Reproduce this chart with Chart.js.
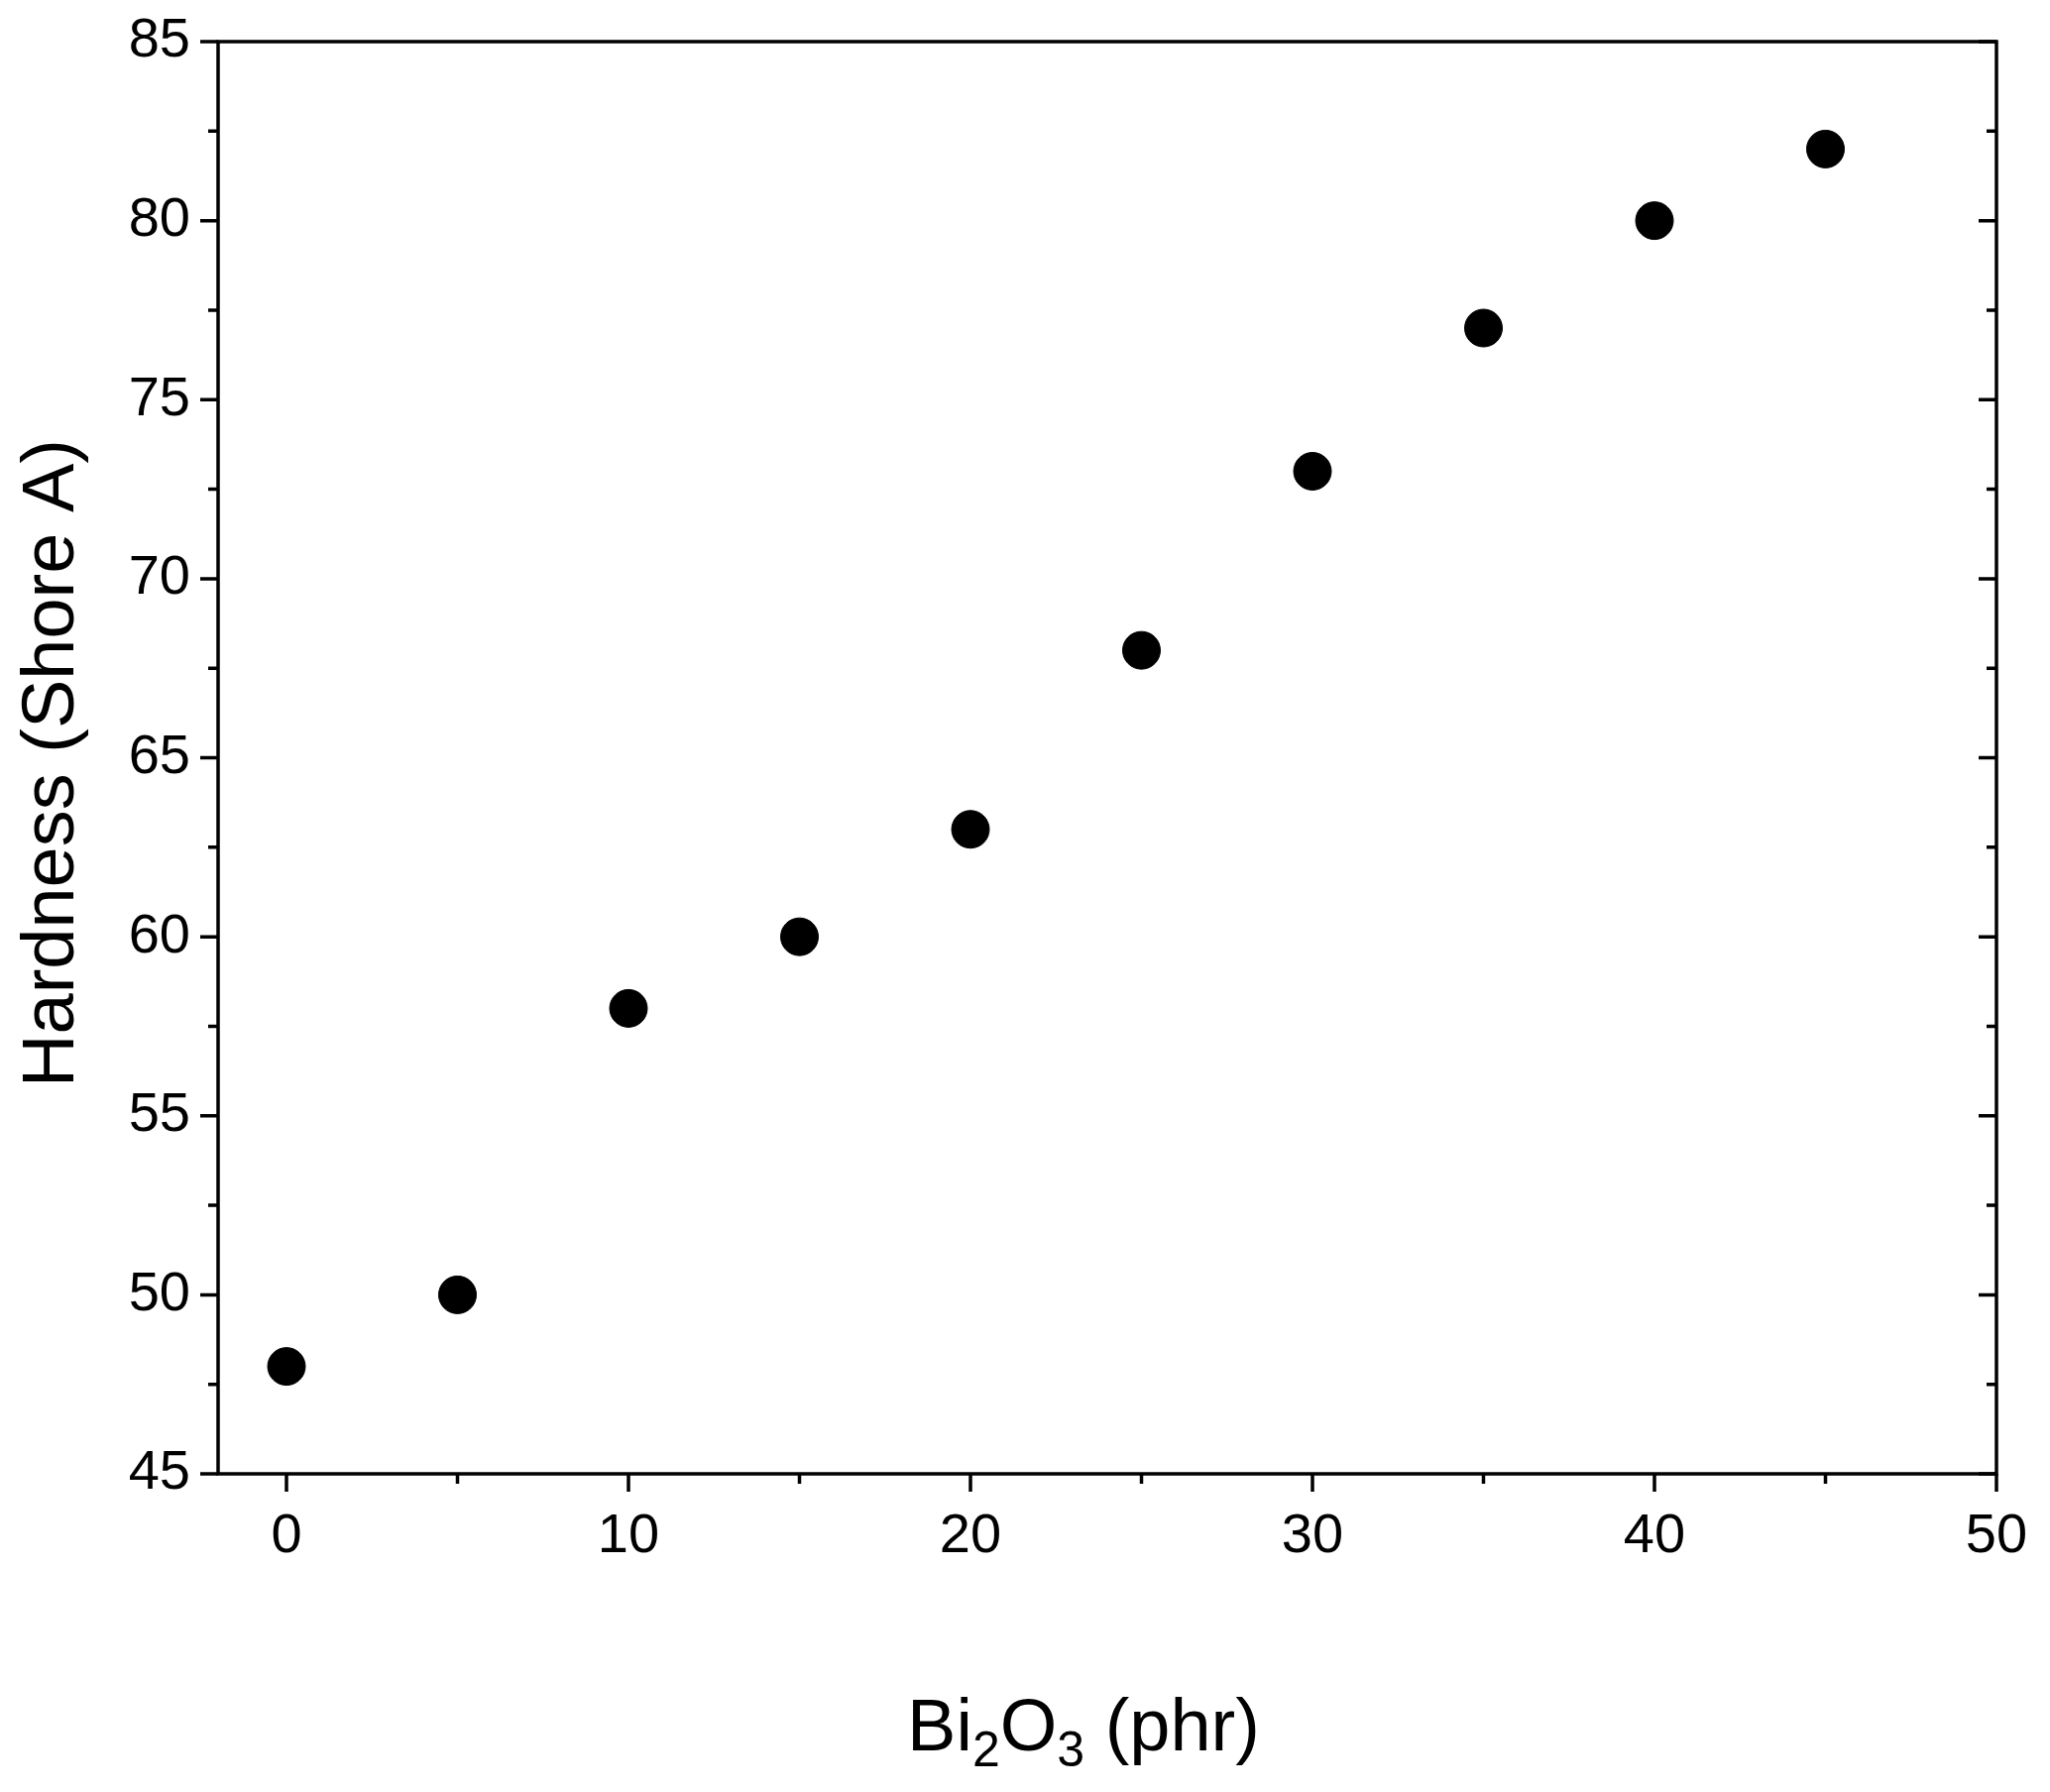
<!DOCTYPE html>
<html>
<head>
<meta charset="utf-8">
<script src="https://cdn.jsdelivr.net/npm/chart.js@4"></script>
<style>
  html, body { margin: 0; padding: 0; background: #fff; }
  #wrap { width: 2068px; height: 1808px; }
</style>
</head>
<body>
<div id="wrap"><canvas id="c" width="2068" height="1808"></canvas></div>
<script>
const bi2o3 = [0, 5, 10, 15, 20, 25, 30, 35, 40, 45];
const hardness = [48, 50, 58, 60, 63, 68, 73, 77, 80, 82];
const xTicks = [0, 10, 20, 30, 40, 50];
const yTicks = [45, 50, 55, 60, 65, 70, 75, 80, 85];

const FONT = '"Liberation Sans", Arial, sans-serif';

// frame, ticks, labels and titles drawn by hand, like Origin does
const axesPlugin = {
  id: 'axes',
  afterDraw(chart) {
    const ctx = chart.ctx;
    const a = chart.chartArea;
    const xs = chart.scales.x, ys = chart.scales.y;
    ctx.save();
    ctx.strokeStyle = '#000';
    ctx.fillStyle = '#000';
    ctx.lineWidth = 3.5;
    ctx.strokeRect(a.left, a.top, a.right - a.left, a.bottom - a.top);

    const major = 18, minor = 10;
    ctx.beginPath();
    for (let v = 0; v <= 50; v += 5) {
      const px = xs.getPixelForValue(v);
      const len = v % 10 === 0 ? major : minor;
      ctx.moveTo(px, a.bottom); ctx.lineTo(px, a.bottom + len);
    }
    for (let v = 45; v <= 85; v += 2.5) {
      const py = ys.getPixelForValue(v);
      const len = v % 5 === 0 ? major : minor;
      ctx.moveTo(a.left, py); ctx.lineTo(a.left - len, py);
      ctx.moveTo(a.right, py); ctx.lineTo(a.right - len, py);
    }
    ctx.stroke();

    ctx.font = '56px ' + FONT;
    ctx.textAlign = 'center';
    ctx.textBaseline = 'top';
    xTicks.forEach(v => ctx.fillText(String(v), xs.getPixelForValue(v), a.bottom + 36));
    ctx.textAlign = 'right';
    ctx.textBaseline = 'middle';
    yTicks.forEach(v => ctx.fillText(String(v), a.left - 28, ys.getPixelForValue(v)));

    // y title
    ctx.save();
    ctx.translate(54, 770);
    ctx.rotate(-Math.PI / 2);
    ctx.textAlign = 'center';
    ctx.textBaseline = 'middle';
    ctx.font = '74px ' + FONT;
    ctx.fillText('Hardness (Shore A)', 0, 0);
    ctx.restore();

    // x title with subscripts
    const parts = [['Bi', 0], ['2', 1], ['O', 0], ['3', 1], [' (phr)', 0]];
    const big = '74px ' + FONT, small = '50px ' + FONT;
    let w = 0;
    parts.forEach(p => { ctx.font = p[1] ? small : big; w += ctx.measureText(p[0]).width; });
    let x = 1093 - w / 2;
    const base = 1766;
    ctx.textAlign = 'left';
    ctx.textBaseline = 'alphabetic';
    parts.forEach(p => {
      ctx.font = p[1] ? small : big;
      ctx.fillText(p[0], x, base + (p[1] ? 16 : 0));
      x += ctx.measureText(p[0]).width;
    });
    ctx.restore();
  }
};

new Chart(document.getElementById('c'), {
  type: 'scatter',
  data: {
    datasets: [{
      data: bi2o3.map((x, i) => ({ x: x, y: hardness[i] })),
      backgroundColor: '#000',
      borderColor: '#000',
      pointRadius: 19,
      pointHoverRadius: 19
    }]
  },
  options: {
    responsive: false,
    animation: false,
    layout: { padding: { left: 220, right: 54, top: 42, bottom: 321 } },
    plugins: { legend: { display: false }, tooltip: { enabled: false } },
    scales: {
      x: { type: 'linear', min: -2, max: 50, display: false },
      y: { type: 'linear', min: 45, max: 85, display: false }
    }
  },
  plugins: [axesPlugin]
});
</script>
</body>
</html>
